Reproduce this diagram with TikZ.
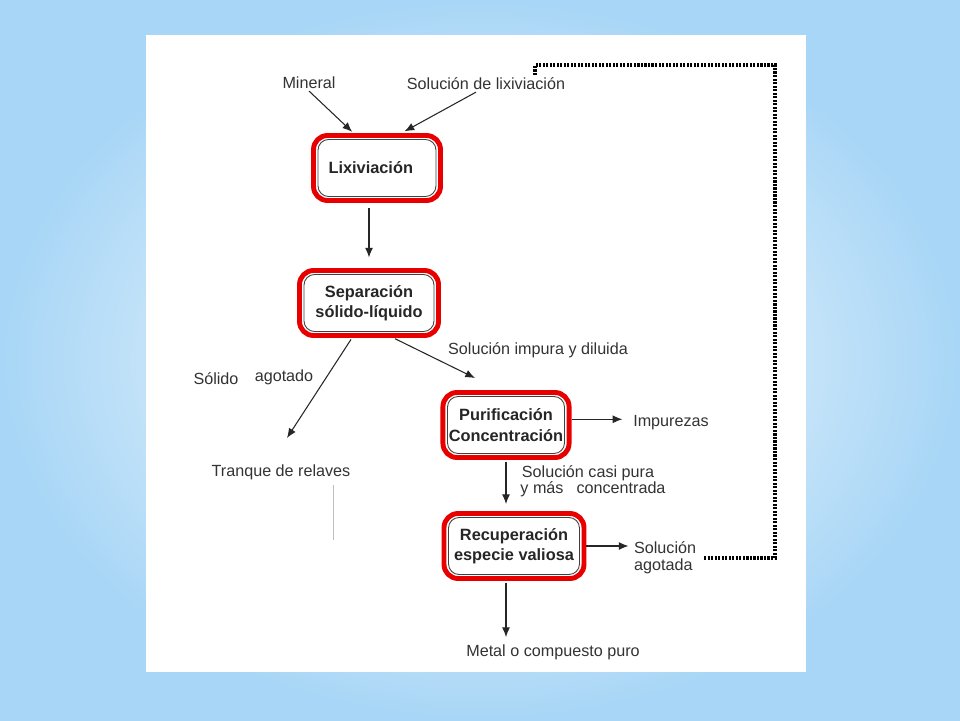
\documentclass[tikz,border=0pt]{standalone}
\usepackage{fontspec}
\setmainfont{Liberation Sans}
\usepackage{tikz}
\usetikzlibrary{shapes,positioning,arrows.meta}
\definecolor{celeste}{RGB}{168,214,246}
\definecolor{rojo}{RGB}{232,0,0}
\tikzstyle{etapa}=[rectangle,
	rounded corners=8pt,
	line width=2.8pt,
	draw=rojo,
	minimum height=1.3cm,
	align=center,
	font=\fontsize{9.3}{11.5}\selectfont\bfseries,
	text=black!85]
\tikzstyle{marco}=[rectangle,
	rounded corners=6pt,
	draw=black!75,
	line width=0.5pt,
	minimum height=1.14cm]
\tikzstyle{texto}=[inner sep=1pt,
	align=left,
	font=\fontsize{9.2}{9.5}\selectfont,
	text=black!80]
\tikzstyle{flujo}=[-{Latex[length=5.5pt,width=4.5pt]},
	line width=0.6pt,
	draw=black!85]
\tikzstyle{retorno}=[line width=1.8pt,
	dash pattern=on 1.2pt off 0.8pt,
	draw=black]

\begin{document}
\begin{tikzpicture}[x=0.02cm,y=-0.02cm]
					% fondo
					\fill[inner color=white, outer color=celeste] (0,0) rectangle (960,720);
					\fill[white] (146,35) rectangle (806,672);

					% etapas
					\node (lix) [etapa, minimum width=2.54cm] at (377,168) {Lixiviación\hspace{0.25cm}};
					\node [marco, minimum width=2.36cm] at (lix) {};
					\node (sep) [etapa, minimum width=2.78cm] at (369,303) {Separación\\sólido-líquido};
					\node [marco, minimum width=2.6cm] at (sep) {};
					\node (pur) [etapa, minimum width=2.52cm] at (506,425) {Purificación\\Concentración};
					\node [marco, minimum width=2.34cm] at (pur) {};
					\node (rec) [etapa, minimum width=2.8cm] at (514,546) {Recuperación\\especie valiosa};
					\node [marco, minimum width=2.62cm] at (rec) {};

					% textos
					\node (min) [texto] at (309,83) {Mineral};
					\node (sollix) [texto] at (486,84) {Solución de lixiviación};
					\node (sol) [texto] at (216,379) {Sólido};
					\node (ago) [texto] at (284,377) {agotado};
					\node (tranque) [texto] at (281,472) {Tranque de relaves};
					\node (impura) [texto] at (538,350) {Solución impura y diluida};
					\node (imp) [texto] at (671,423) {Impurezas};
					\node (casi) [texto] at (588,473) {Solución casi pura};
					\node (ymas) [texto] at (542,489) {y más};
					\node (conc) [texto] at (621,488) {concentrada};
					\node (agot) [texto, anchor=west] at (632,558) {Solución\\agotada};
					\node (metal) [texto] at (553,652) {Metal o compuesto puro};

					\coordinate (sk) at (287,438);
					\coordinate (pk) at (475,378);
					\coordinate (esq) at (775,65);
					\coordinate (fin) at (535,75);

					% flechas
					\draw[flujo, shorten >=1pt] (min.south) -- (lix.124);
					\draw[flujo, shorten >=2pt] ([xshift=-0.2cm]sollix.south) -- (lix.55);
					\draw[flujo, shorten <=3pt, shorten >=6pt] (lix.south -| sep.north) -- (sep.north);
					\draw[flujo, shorten <=1pt] (sep.244) -- (sk);
					\draw[flujo, shorten <=1pt] (sep.-55) -- (pk);
					\draw[flujo, shorten >=5pt] (pur.5) -- (pur.5 -| imp.west);
					\draw[flujo, shorten <=1pt, shorten >=4pt] (pur.south) -- (rec.north -| pur.south);
					\draw[flujo, shorten >=2pt] (rec.east) -- (rec.east -| agot.west);
					\draw[flujo, shorten <=1pt, shorten >=3pt] (rec.south -| pur.south) -- (metal.north -| pur.south);
					\draw[retorno] ([xshift=0.12cm]agot.east) -| (esq) -| (fin);

					\draw[black!25, line width=0.4pt] (333,485) -- (333,540);
				\end{tikzpicture}
\end{document}
